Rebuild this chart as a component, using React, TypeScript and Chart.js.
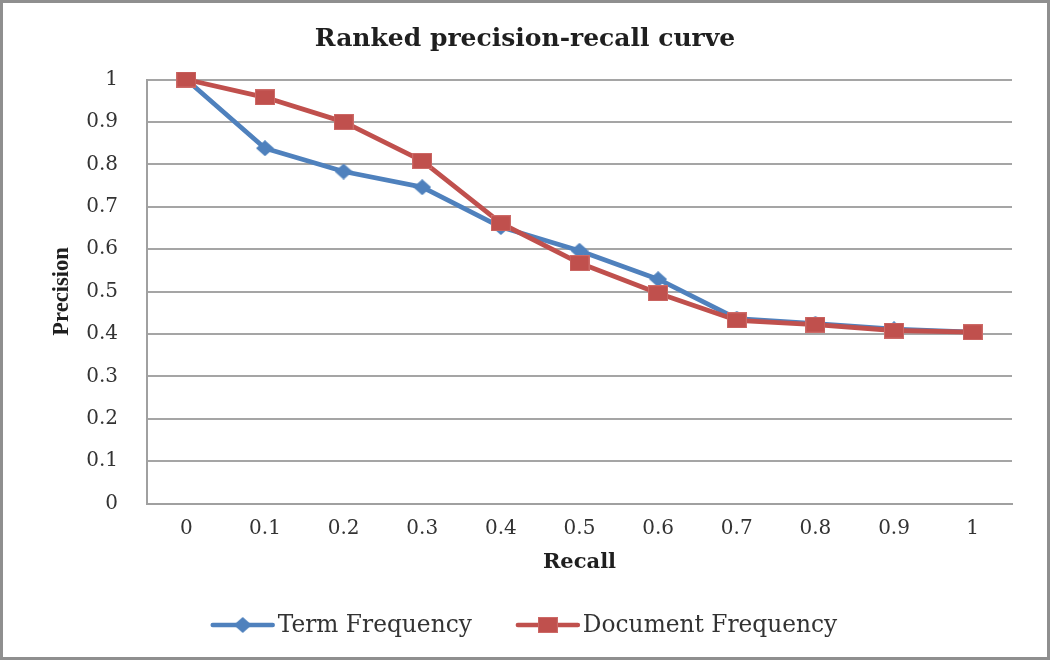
import React, { useEffect, useRef } from "react";
import { Chart, registerables } from "chart.js";

Chart.register(...registerables);

const recallLabels = ["0", "0.1", "0.2", "0.3", "0.4", "0.5", "0.6", "0.7", "0.8", "0.9", "1"];
const termFrequency = [1, 0.838, 0.783, 0.746, 0.652, 0.596, 0.529, 0.436, 0.424, 0.411, 0.404];
const documentFrequency = [1, 0.958, 0.9, 0.808, 0.661, 0.567, 0.496, 0.432, 0.422, 0.408, 0.404];
const seriesNames = ["Term Frequency", "Document Frequency"];
const chartTitle = "Ranked precision-recall curve";
const xTitle = "Recall";
const yTitle = "Precision";

const BLUE = "#4F81BD";
const RED = "#C0504D";

function makeDiamond(color: string) {
  const c = document.createElement("canvas");
  c.width = 18;
  c.height = 16;
  const ctx = c.getContext("2d")!;
  ctx.fillStyle = color;
  ctx.beginPath();
  ctx.moveTo(9, 0);
  ctx.lineTo(18, 8);
  ctx.lineTo(9, 16);
  ctx.lineTo(0, 8);
  ctx.closePath();
  ctx.fill();
  return c;
}

function makeSquare(color: string) {
  const c = document.createElement("canvas");
  c.width = 20;
  c.height = 16;
  const ctx = c.getContext("2d")!;
  ctx.fillStyle = color;
  ctx.fillRect(0, 0, 20, 16);
  ctx.strokeStyle = "#cd6a67";
  ctx.lineWidth = 1;
  ctx.strokeRect(0.5, 0.5, 19, 15);
  return c;
}

const customLegend = {
  id: "customLegend",
  afterDraw(chart: any) {
    const ctx = chart.ctx as CanvasRenderingContext2D;
    ctx.save();
    ctx.font = '23.3px "DejaVu Serif"';
    const items = chart.data.datasets.map((ds: any) => ({
      label: ds.label,
      color: ds.borderColor,
      img: ds.pointStyle,
    }));
    const lineW = 60;
    const gapIcon = 5;
    const gapItem = 46;
    const widths = items.map((it: any) => lineW + gapIcon + ctx.measureText(it.label).width);
    const total = widths.reduce((a: number, b: number) => a + b, 0) + gapItem * (items.length - 1);
    let x = chart.width / 2 - total / 2;
    const y = 622;
    items.forEach((it: any, i: number) => {
      ctx.strokeStyle = it.color;
      ctx.lineWidth = 4.5;
      ctx.lineCap = "round";
      ctx.beginPath();
      ctx.moveTo(x, y);
      ctx.lineTo(x + lineW, y);
      ctx.stroke();
      ctx.drawImage(it.img, x + lineW / 2 - it.img.width / 2, y - it.img.height / 2);
      ctx.fillStyle = "#333333";
      ctx.textBaseline = "middle";
      ctx.textAlign = "left";
      ctx.fillText(it.label, x + lineW + gapIcon, y + 1);
      x += widths[i] + gapItem;
    });
    ctx.restore();
  },
};

export default function App() {
  const ref = useRef<HTMLCanvasElement>(null);

  useEffect(() => {
    if (!ref.current) return;
    const diamond = makeDiamond(BLUE);
    const square = makeSquare(RED);
    const chart = new Chart(ref.current, {
      type: "line",
      data: {
        labels: recallLabels,
        datasets: [
          {
            label: seriesNames[0],
            data: termFrequency,
            borderColor: BLUE,
            backgroundColor: BLUE,
            borderWidth: 4.8,
            pointStyle: diamond as any,
            pointRadius: 8,
            borderJoinStyle: "round",
            borderCapStyle: "round",
            tension: 0,
            clip: false as any,
            order: 2,
          },
          {
            label: seriesNames[1],
            data: documentFrequency,
            borderColor: RED,
            backgroundColor: RED,
            borderWidth: 4.8,
            pointStyle: square as any,
            pointRadius: 9,
            borderJoinStyle: "round",
            borderCapStyle: "round",
            tension: 0,
            clip: false as any,
            order: 1,
          },
        ],
      },
      options: {
        responsive: false,
        animation: false,
        devicePixelRatio: 1,
        layout: { padding: { left: 0, right: 0, top: 0, bottom: 56.5 } },
        plugins: {
          legend: { display: false },
          tooltip: { enabled: false },
          title: {
            display: true,
            text: chartTitle,
            color: "#1f1f1f",
            font: { family: '"DejaVu Serif"', size: 25, weight: "bold" },
            padding: { top: 21, bottom: 25.5 },
          },
        },
        scales: {
          x: {
            type: "category",
            offset: true,
            grid: { display: false, drawTicks: false },
            border: { display: true, color: "#a0a0a0", width: 2 },
            ticks: {
              color: "#333333",
              font: { family: '"DejaVu Serif"', size: 20 },
              padding: 13,
              maxRotation: 0,
            },
            title: {
              display: true,
              text: xTitle,
              color: "#1f1f1f",
              font: { family: '"DejaVu Serif"', size: 21, weight: "bold" },
              padding: { top: 0, bottom: 24.9 },
            },
            afterFit(s: any) {
              s.height = 97;
            },
          },
          y: {
            type: "linear",
            position: "left",
            min: 0,
            max: 1,
            grid: { color: "#a5a5a5", lineWidth: 2, drawTicks: false },
            border: { display: true, color: "#a0a0a0", width: 2 },
            ticks: {
              stepSize: 0.1,
              color: "#333333",
              font: { family: '"DejaVu Serif"', size: 20 },
              padding: 29,
              callback: (v: any) => String(Number(Number(v).toFixed(1))),
            },
            title: {
              display: true,
              text: yTitle,
              color: "#1f1f1f",
              font: { family: '"Liberation Serif"', size: 22.5, weight: "bold" },
              padding: { top: 45.5, bottom: 0 },
            },
            afterFit(s: any) {
              s.width = 144;
            },
          },
          y2: {
            type: "linear",
            position: "right",
            display: true,
            grid: { display: false, drawTicks: false },
            border: { display: false },
            ticks: { display: false },
            afterFit(s: any) {
              s.width = 35;
            },
          },
        },
      },
      plugins: [customLegend],
    });
    return () => chart.destroy();
  }, []);

  return (
    <div
      style={{
        position: "fixed",
        left: 0,
        top: 0,
        width: 1050,
        height: 660,
        boxSizing: "border-box",
        border: "3px solid #8f8f8f",
        background: "#ffffff",
      }}
    >
      <canvas ref={ref} width={1044} height={654} style={{ display: "block", width: 1044, height: 654 }} />
    </div>
  );
}
